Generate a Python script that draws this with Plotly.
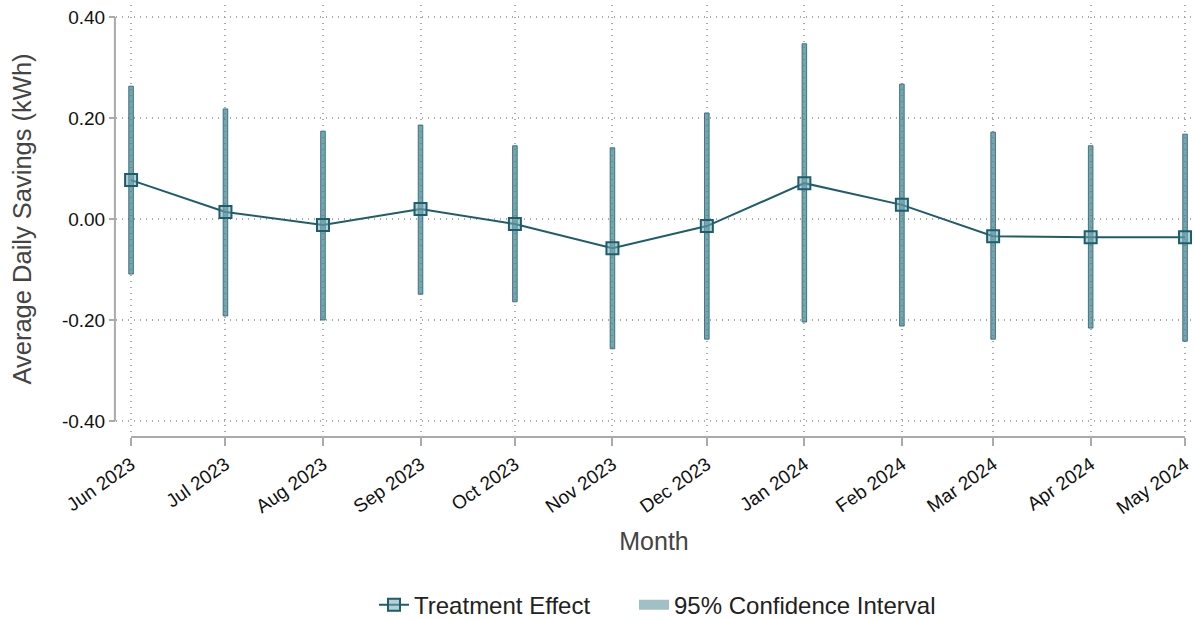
import plotly.graph_objects as go

# Monthly treatment effects with 95% confidence bounds
months = ["2023-06-01", "2023-07-01", "2023-08-01", "2023-09-01", "2023-10-01", "2023-11-01",
          "2023-12-01", "2024-01-01", "2024-02-01", "2024-03-01", "2024-04-01", "2024-05-01"]
month_labels = ["Jun 2023", "Jul 2023", "Aug 2023", "Sep 2023", "Oct 2023", "Nov 2023",
                "Dec 2023", "Jan 2024", "Feb 2024", "Mar 2024", "Apr 2024", "May 2024"]
effect = [0.077, 0.014, -0.012, 0.020, -0.010, -0.058, -0.014, 0.071, 0.028, -0.034, -0.036, -0.036]
ci_upper = [0.263, 0.218, 0.174, 0.186, 0.145, 0.141, 0.210, 0.347, 0.267, 0.172, 0.145, 0.168]
ci_lower = [-0.109, -0.192, -0.200, -0.149, -0.164, -0.257, -0.238, -0.204, -0.212, -0.238, -0.216, -0.242]
y_ticks = [-0.4, -0.2, 0.0, 0.2, 0.4]
y_tick_labels = ["-0.40", "-0.20", "0.00", "0.20", "0.40"]

DARK = "#1d5e6a"
CI_FILL = "rgba(72,134,147,0.74)"
CI_EDGE = "rgba(45,108,120,0.9)"
FONT = "Arial, Liberation Sans, sans-serif"
PLOT_LEFT, PLOT_WIDTH = 116, 1076

fig = go.Figure()

# Confidence interval bars (base = lower bound, height = interval width)
fig.add_trace(go.Bar(
    x=months,
    y=[u - l for u, l in zip(ci_upper, ci_lower)],
    base=ci_lower,
    width=1.45 * 86400000,
    name="95% Confidence Interval",
    showlegend=False,
    marker=dict(color=CI_FILL, line=dict(color=CI_EDGE, width=1)),
    hoverinfo="skip",
))

# Point estimates
fig.add_trace(go.Scatter(
    x=months,
    y=effect,
    mode="lines+markers",
    name="Treatment Effect",
    legend="legend",
    line=dict(color=DARK, width=2),
    marker=dict(symbol="square", size=12, color="rgba(120,170,180,0.55)",
                line=dict(color=DARK, width=2)),
))

# Legend entry for the interval bars (wide filled swatch)
fig.add_trace(go.Scatter(
    x=[None], y=[None],
    mode="lines",
    name="95% Confidence Interval",
    legend="legend2",
    line=dict(color="#a1c0c6", width=12),
    hoverinfo="skip",
))

# Detached axis lines
fig.add_shape(type="line", xref="paper", yref="y", x0=-0.001, x1=-0.001, y0=-0.4, y1=0.4,
              line=dict(color="#aaaaaa", width=2))
fig.add_shape(type="line", xref="x", yref="paper", x0=months[0], x1=months[-1], y0=0, y1=0,
              line=dict(color="#aaaaaa", width=2))

GRID = dict(showgrid=True, gridcolor="#aaaaaa", griddash="1px,5px", gridwidth=1.5, zeroline=False)
LEGEND_FONT = dict(size=24, color="#222222")

fig.update_layout(
    width=1194, height=620,
    margin=dict(l=116, r=2, t=5, b=183, autoexpand=False),
    paper_bgcolor="white", plot_bgcolor="white",
    font=dict(family=FONT, color="#222222"),
    barmode="overlay",
    legend=dict(orientation="h", x=(374 - PLOT_LEFT) / PLOT_WIDTH, xanchor="left",
                y=-0.389, yanchor="middle", font=LEGEND_FONT),
    legend2=dict(orientation="h", x=(634 - PLOT_LEFT) / PLOT_WIDTH, xanchor="left",
                 y=-0.389, yanchor="middle", font=LEGEND_FONT),
    xaxis=dict(
        type="date",
        range=["2023-05-27 05:00", "2024-05-03 05:00"],
        tickmode="array", tickvals=months, ticktext=month_labels,
        tickangle=-35, tickfont=dict(size=19, color="#111111"),
        ticks="outside", ticklen=8, tickwidth=2, tickcolor="#aaaaaa",
        showline=False, anchor="free", position=0, automargin=False,
        title=dict(text="Month", font=dict(size=25, color="#444444"), standoff=15),
        **GRID,
    ),
    yaxis=dict(
        domain=[4 / 432, 1],
        range=[-0.4238, 0.4238],
        tickmode="array", tickvals=y_ticks, ticktext=y_tick_labels,
        tickfont=dict(size=19, color="#111111"),
        ticks="outside", ticklen=6, tickwidth=2, tickcolor="#aaaaaa",
        showline=False, automargin=False,
        title=dict(text="Average Daily Savings (kWh)", font=dict(size=25.5, color="#444444"), standoff=22),
        **GRID,
    ),
)

fig.write_html("out.html")
